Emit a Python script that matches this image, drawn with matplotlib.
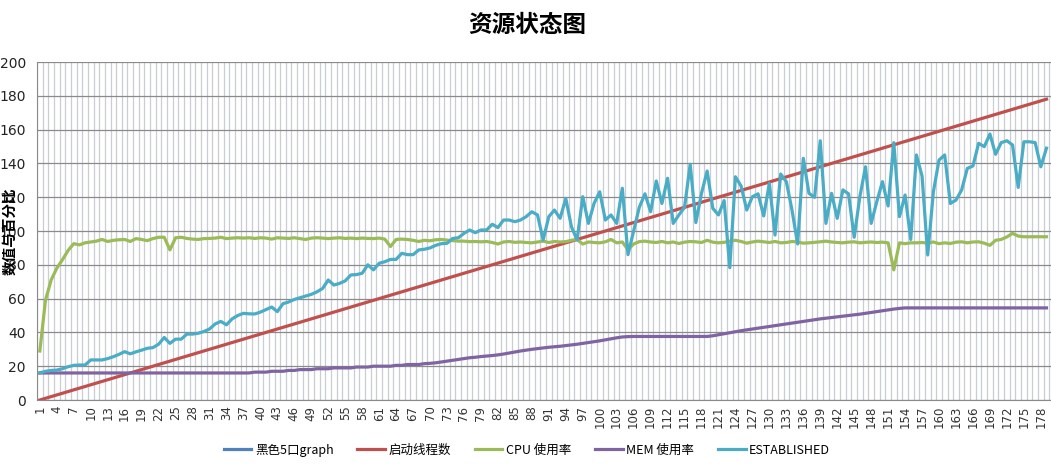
import numpy as np
import matplotlib
matplotlib.use('Agg')
import matplotlib.pyplot as plt

plt.rcParams['font.family'] = ['Noto Sans CJK SC', 'DejaVu Sans']

# series names (legend order)
names = ['黑色5口graph', '启动线程数', 'CPU 使用率', 'MEM 使用率', 'ESTABLISHED']
colors = ['#4F81BD', '#C0504D', '#9BBB59', '#8064A2', '#4BACC6']

# first series is not visible in the picture
graph5 = []

threads = [0, 1, 2, 3, 4, 5, 6, 7, 8, 9, 10, 11, 12, 13, 14, 15, 16, 17, 18, 19,
           20, 21, 22, 23, 24, 25, 26, 27, 28, 29, 30, 31, 32, 33, 34, 35, 36, 37, 38, 39,
           40, 41, 42, 43, 44, 45, 46, 47, 48, 49, 50, 51, 52, 53, 54, 55, 56, 57, 58, 59,
           60, 61, 62, 63, 64, 65, 66, 67, 68, 69, 70, 71, 72, 73, 74, 75, 76, 77, 78, 79,
           80, 81, 82, 83, 84, 85, 86, 87, 88, 89, 90, 91, 92, 93, 94, 95, 96, 97, 98, 99,
           100, 101, 102, 103, 104, 105, 106, 107, 108, 109, 110, 111, 112, 113, 114, 115,
           116, 117, 118, 119, 120, 121, 122, 123, 124, 125, 126, 127, 128, 129, 130, 131,
           132, 133, 134, 135, 136, 137, 138, 139, 140, 141, 142, 143, 144, 145, 146, 147,
           148, 149, 150, 151, 152, 153, 154, 155, 156, 157, 158, 159, 160, 161, 162, 163,
           164, 165, 166, 167, 168, 169, 170, 171, 172, 173, 174, 175, 176, 177, 178]

cpu = [29, 59, 71, 78, 83, 88.5, 92.5, 91.8, 93, 93.5,
       94, 95, 93.8, 94.5, 94.8, 95, 93.8, 95.5, 95, 94.3,
       95.5, 96.3, 96.3, 88.8, 96, 96.3, 95.6, 95.2, 95, 95.5,
       95.6, 95.8, 96.3, 95.5, 95.8, 96, 95.8, 96, 95.6, 96,
       95.8, 95.2, 96, 95.8, 95.6, 96, 95.5, 95, 95.8, 96,
       95.8, 95.5, 95.8, 96, 95.6, 95.8, 95.5, 95.8, 95.6, 95.5,
       95.8, 95.2, 90.8, 95, 95.2, 95, 94.5, 93.8, 94.5, 94.2,
       94.8, 95, 94.6, 94.3, 94, 94, 93.7, 93.8, 93.6, 93.8,
       93.2, 92.3, 93.5, 93.8, 93.3, 93.5, 93.2, 93, 93.5, 94,
       93.2, 93.8, 93.5, 93.7, 94.5, 95, 92.3, 93.5, 93.2, 93,
       93.6, 95, 93, 93.5, 89, 92.3, 93.7, 94, 93.5, 93.2,
       93.8, 93, 93.5, 92.6, 93.4, 93.8, 93.6, 93.2, 94.5, 93.4,
       93, 93.3, 94, 94.5, 93.8, 92.8, 93.5, 94, 93.6, 93.2,
       93.8, 93, 93.2, 93.8, 93.5, 92.8, 93, 93.3, 93.6, 94,
       93.5, 93.2, 93, 93.4, 93.6, 93, 93.3, 93.5, 93.2, 93.4,
       93, 77, 93, 92.5, 93, 93, 93.2, 92.8, 93.5, 92.5,
       93, 92.6, 93.4, 93.6, 93, 93.5, 93.6, 92.8, 91.5, 94.5,
       95, 96.5, 98.6, 97, 96.6, 96.6, 96.6, 96.6, 96.6]

mem = [16, 16, 16, 16, 16, 16, 16, 16, 16, 16,
       16, 16, 16, 16, 16, 16, 16, 16, 16, 16,
       16, 16, 16, 16, 16, 16, 16, 16, 16, 16,
       16, 16, 16, 16, 16, 16, 16, 16, 16.5, 16.5,
       16.5, 17, 17, 17, 17.5, 17.5, 18, 18, 18, 18.5,
       18.5, 18.5, 19, 19, 19, 19, 19.5, 19.5, 19.5, 20,
       20, 20, 20, 20.5, 20.5, 21, 21, 21, 21.5, 21.7,
       22, 22.5, 23, 23.5, 24, 24.5, 25, 25.3, 25.7, 26,
       26.3, 26.7, 27.2, 27.8, 28.4, 29, 29.5, 30, 30.4, 30.8,
       31.2, 31.5, 31.8, 32.2, 32.6, 33, 33.5, 34, 34.5, 35,
       35.6, 36.2, 36.8, 37.3, 37.5, 37.6, 37.6, 37.6, 37.6, 37.6,
       37.6, 37.6, 37.6, 37.6, 37.6, 37.6, 37.6, 37.6, 37.6, 38,
       38.6, 39.2, 39.8, 40.4, 41, 41.5, 42, 42.5, 43, 43.5,
       44, 44.5, 45, 45.5, 46, 46.5, 47, 47.5, 48, 48.4,
       48.8, 49.2, 49.6, 50, 50.4, 50.8, 51.3, 51.8, 52.3, 52.8,
       53.3, 53.8, 54.2, 54.5, 54.5, 54.5, 54.5, 54.5, 54.5, 54.5,
       54.5, 54.5, 54.5, 54.5, 54.5, 54.5, 54.5, 54.5, 54.5, 54.5,
       54.5, 54.5, 54.5, 54.5, 54.5, 54.5, 54.5, 54.5, 54.5]

established = [16, 17, 17.5, 17.7, 18.5, 19.7, 20.5, 20.7, 20.7, 23.7,
               23.7, 23.7, 24.5, 25.6, 27, 28.6, 27.3, 28.5, 29.5, 30.6,
               31, 33, 37, 33.5, 36, 36, 39, 39, 39.5, 40.5,
               42, 45, 46.5, 44.5, 48, 50, 51.3, 51, 50.9, 52,
               53.5, 55, 52.3, 57, 58, 59.5, 60.5, 61.5, 62.5, 64,
               66, 71, 68, 69, 70.5, 74, 74.2, 75, 80, 77,
               80.9, 81.8, 83.2, 83.2, 86.8, 86, 86, 88.8, 89.2, 90,
               91.5, 92.5, 92.7, 95.6, 96, 98.6, 100.6, 99, 100.6, 100.6,
               104, 102, 106.5, 106.5, 105.5, 106.5, 108.5, 111.4, 109.5, 94.7,
               108.5, 112.4, 107.5, 119.3, 102.5, 94.7, 120.3, 104.5, 116.3, 123.2,
               106.5, 109.5, 104.5, 125.3, 86, 100, 114, 122, 111.4, 129.6,
               116.3, 131.2, 104.5, 109.5, 114, 139.5, 105, 122.3, 135.5, 113.4,
               109.5, 118, 78.3, 132.1, 126.6, 112.4, 120.3, 122, 108.9, 128.2,
               97.6, 133.7, 129.2, 112.4, 92.3, 143, 122.3, 119.9, 153.4, 104.5,
               122.3, 107.5, 124.3, 122, 96.3, 120.3, 138, 104.5, 117.4, 129.2,
               114.8, 152.3, 108.5, 121.3, 95, 145, 132.5, 85.8, 123.2, 142,
               145, 116.3, 118.3, 124.3, 137, 138.5, 151.9, 149.9, 157.4, 145.4,
               152.3, 153.4, 150.9, 125.8, 152.8, 152.8, 152.3, 138, 149]

series = [graph5, threads, cpu, mem, established]

n = len(threads)
x = np.arange(1, n + 1)

fig = plt.figure(figsize=(10.51, 4.71), dpi=100)
ax = fig.add_axes([37 / 1051, 1 - 400 / 471, 1 - 37 / 1051, (400 - 62) / 471])

for vals, name, col in zip(series, names, colors):
    ax.plot(x[:len(vals)], vals, color=col, lw=2.3, label=name, solid_joinstyle='round')

ax.set_xlim(0.5, 179.8)
ax.set_ylim(0, 200)
ax.set_yticks(np.arange(0, 201, 20))
ax.set_xticks(x[::3])
ax.set_xticklabels([str(i) for i in x[::3]], rotation=90, fontsize=8.5,
                   family=['DejaVu Sans'], color='#333333')
ax.set_xticks(np.arange(0.5, n + 1, 1), minor=True)
ax.tick_params(axis='x', which='both', length=0, pad=4)
ax.tick_params(axis='y', length=0, pad=8, labelsize=10, labelcolor='#222222')
for lab in ax.get_yticklabels():
    lab.set_family(['DejaVu Sans'])

ax.grid(True, axis='x', which='minor', color='#C8CED6', lw=0.9)
ax.grid(True, axis='y', which='major', color='#8A8A8A', lw=0.9)
ax.set_axisbelow(True)
for s in ['top', 'right']:
    ax.spines[s].set_visible(False)
ax.spines['left'].set_color('#8A8A8A')
ax.spines['bottom'].set_color('#8A8A8A')

fig.text(527 / 1051, 1 - 25 / 471, '资源状态图', ha='center', va='center',
         fontsize=17, fontweight='bold')
fig.text(9 / 1051, 1 - 231 / 471, '数值与百分比', rotation=90, ha='center',
         va='center', fontsize=10.5, fontweight='bold')

fig.legend(loc='center', bbox_to_anchor=(527 / 1051, 1 - 450 / 471), ncol=5,
           frameon=False, fontsize=9, handlelength=2.2, columnspacing=1.9,
           handletextpad=0.3)

fig.savefig('out.png', dpi=100)
